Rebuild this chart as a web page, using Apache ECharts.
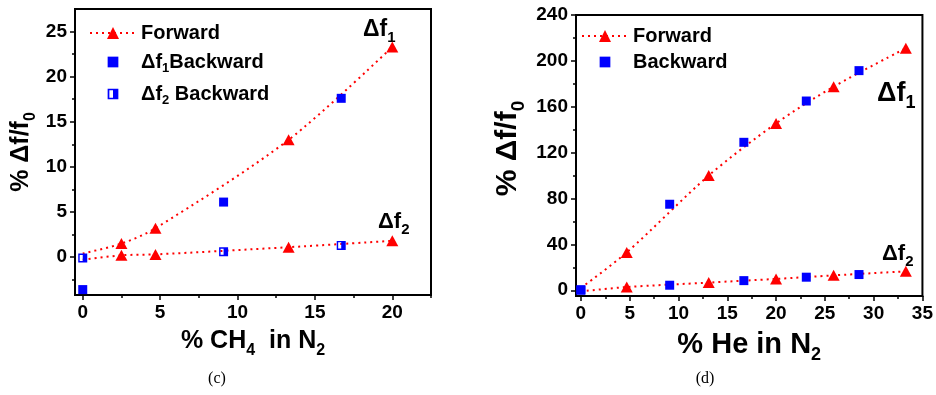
<!DOCTYPE html>
<html>
<head>
<meta charset="utf-8">
<script src="https://cdn.jsdelivr.net/npm/echarts@6/dist/echarts.min.js"></script>
<style>
html, body { margin: 0; padding: 0; background: #fff; }
#chart { width: 936px; height: 395px; }
</style>
</head>
<body>
<div id="chart"></div>
<script>
// ---- panel (c): % CH4 in N2 ----
// first point of each forward list is the start of the fitted dotted line (no marker)
var ch4_fwd_f1 = [[0, 0.4], [2.5, 1.5], [4.7, 3.2], [13.3, 13.0], [20, 23.3]];
var ch4_fwd_f2 = [[0, -0.3], [2.5, 0.2], [4.7, 0.3], [13.3, 1.1], [20, 1.8]];
var ch4_bwd_f1 = [[0, -3.6], [9.1, 6.1], [16.7, 17.6]];
var ch4_bwd_f2 = [[0, -0.1], [9.1, 0.6], [16.7, 1.3]];
var ch4_x_ticks = [0, 5, 10, 15, 20];
var ch4_x_minor = [2.5, 7.5, 12.5, 17.5, 22.5];
var ch4_y_ticks = [0, 5, 10, 15, 20, 25];
var ch4_y_minor = [-2.5, 2.5, 7.5, 12.5, 17.5, 22.5];

// ---- panel (d): % He in N2 ----
var he_fwd_f1 = [[0, 2], [4.7, 33], [13.1, 100], [20, 145.5], [25.9, 177.5], [33.3, 211]];
var he_fwd_f2 = [[0, -1], [4.7, 2.8], [13.1, 6.7], [20, 9.9], [25.9, 13.0], [33.3, 16.5]];
var he_bwd_f1 = [[0, 0.5], [9.1, 75], [16.7, 129], [23.1, 165], [28.5, 191.5]];
var he_bwd_f2 = [[0, 0], [9.1, 4.4], [16.7, 8.4], [23.1, 11.4], [28.5, 13.7]];
var he_x_ticks = [0, 5, 10, 15, 20, 25, 30, 35];
var he_x_minor = [2.5, 7.5, 12.5, 17.5, 22.5, 27.5, 32.5];
var he_y_ticks = [0, 40, 80, 120, 160, 200, 240];
var he_y_minor = [20, 60, 100, 140, 180, 220];

var FONT = "'Liberation Sans', Arial, sans-serif";
var RED = '#ff0000';
var BLUE = '#0000ff';
// square: blue border, left half empty, right half filled
var HALF_SQUARE = 'path://M0,0H10V10H0Z M1.6,1.6V8.4H5V1.6Z';
// legend icons: same squares, padded with empty corner points so they come out smaller
var LEG_SQUARE = 'path://M-2,-2L-2,-2 M0,0H10V10H0Z M12,12L12,12';
var LEG_HALF = 'path://M-2,-2L-2,-2 M0,0H10V10H0Z M1.6,1.6V8.4H5V1.6Z M12,12L12,12';

function subRich(base, sub, lh) {
    return {
        b: {fontFamily: FONT, fontWeight: 'bold', fontSize: base, lineHeight: lh, verticalAlign: 'middle', color: '#000'},
        s: {fontFamily: FONT, fontWeight: 'bold', fontSize: sub, lineHeight: sub, verticalAlign: 'bottom', color: '#000'}
    };
}

function fitLine(pts) {
    // the first point only anchors the dotted fit, it has no marker
    return pts.map(function(p, i) {
        return i == 0 ? {value: p, symbol: 'none'} : p;
    });
}

function mainX(grid, min, max, ticks, name, nameSize, nameGap) {
    return {
        gridIndex: grid, type: 'value', min: min, max: max, position: 'bottom',
        axisLine: {show: true, onZero: false, lineStyle: {color: '#000', width: 2}},
        axisTick: {show: true, length: 5, customValues: ticks, lineStyle: {color: '#000', width: 1.5}},
        axisLabel: {customValues: ticks, margin: 8, color: '#000', fontFamily: FONT, fontWeight: 'bold', fontSize: 19},
        splitLine: {show: false},
        name: name, nameLocation: 'middle', nameGap: nameGap,
        nameTextStyle: {rich: subRich(nameSize, Math.round(nameSize * 0.62), nameSize + 10)}
    };
}

function mainY(grid, min, max, ticks, name, nameSize, nameGap, pad) {
    return {
        gridIndex: grid, type: 'value', min: min, max: max, position: 'left',
        axisLine: {show: true, onZero: false, lineStyle: {color: '#000', width: 2}},
        axisTick: {show: true, length: 5, customValues: ticks, lineStyle: {color: '#000', width: 1.5}},
        axisLabel: {customValues: ticks, margin: 8, color: '#000', fontFamily: FONT, fontWeight: 'bold', fontSize: 19},
        splitLine: {show: false},
        name: name, nameLocation: 'middle', nameGap: nameGap, nameRotate: 90,
        nameTextStyle: {padding: pad, rich: subRich(nameSize, Math.round(nameSize * 0.62), nameSize + 10)}
    };
}

function minorAxis(grid, pos, min, max, ticks) {
    return {
        gridIndex: grid, type: 'value', min: min, max: max, position: pos,
        axisLine: {show: false, onZero: false},
        axisTick: {show: true, length: 3, customValues: ticks, lineStyle: {color: '#000', width: 1.5}},
        axisLabel: {show: false, customValues: ticks},
        splitLine: {show: false}
    };
}

function fwdSeries(name, xi, data) {
    return {
        name: name, type: 'line', xAxisIndex: xi, yAxisIndex: xi,
        smooth: 0.3, data: fitLine(data),
        symbol: 'triangle', symbolSize: [12, 11],
        itemStyle: {color: RED},
        lineStyle: {color: RED, width: 2, type: [2, 4]},
        z: 2
    };
}

function bwdSeries(name, xi, data, symbol) {
    return {
        name: name, type: 'scatter', xAxisIndex: xi, yAxisIndex: xi,
        data: data, symbol: symbol, symbolSize: 9,
        itemStyle: {color: BLUE, opacity: 1},
        z: 3
    };
}

var option = {
    backgroundColor: '#fff',
    animation: false,
    grid: [
        {left: 75, top: 9, width: 356, height: 286, show: true, borderColor: '#000', borderWidth: 2},
        {left: 576, top: 15, width: 348, height: 281, show: true, borderColor: '#000', borderWidth: 2}
    ],
    xAxis: [
        mainX(0, -0.5, 22.5, ch4_x_ticks, '{b|% CH}{s|4}{b|  in N}{s|2}', 25, 29),
        minorAxis(0, 'bottom', -0.5, 22.5, ch4_x_minor),
        mainX(1, -0.5, 35, he_x_ticks, '{b|% He in N}{s|2}', 29, 29),
        minorAxis(1, 'bottom', -0.5, 35, he_x_minor)
    ],
    yAxis: [
        mainY(0, -4.2, 27.5, ch4_y_ticks, '{b|% Δf/f}{s|0}', 25, 36, 0),
        minorAxis(0, 'left', -4.2, 27.5, ch4_y_minor),
        mainY(1, -5, 240, he_y_ticks, '{b|% Δf/f}{s|0}', 30, 48, [0, 0, 0, 14]),
        minorAxis(1, 'left', -5, 240, he_y_minor)
    ],
    legend: [
        {
            orient: 'vertical', left: 84, top: 18, itemWidth: 46, itemHeight: 15, itemGap: 9,
            data: [
                'Forward',
                {name: 'Δf1Backward', icon: LEG_SQUARE},
                {name: 'Δf2 Backward', icon: LEG_HALF}
            ],
            formatter: function(n) {
                if (n == 'Δf1Backward') return '{b|Δf}{s|1}{b|Backward}';
                if (n == 'Δf2 Backward') return '{b|Δf}{s|2}{b| Backward}';
                return '{b|' + n + '}';
            },
            textStyle: {rich: subRich(20, 13, 26)}
        },
        {
            orient: 'vertical', left: 576, top: 21, itemWidth: 46, itemHeight: 15, itemGap: 6,
            data: ['Forward', {name: 'Backward', icon: LEG_SQUARE}],
            formatter: function(n) { return '{b|' + n + '}'; },
            textStyle: {rich: subRich(20, 13, 26)}
        }
    ],
    series: [
        fwdSeries('Forward', 0, ch4_fwd_f1),
        fwdSeries('Forward', 0, ch4_fwd_f2),
        bwdSeries('Δf1Backward', 0, ch4_bwd_f1, 'rect'),
        bwdSeries('Δf2 Backward', 0, ch4_bwd_f2, HALF_SQUARE),
        fwdSeries('Forward', 2, he_fwd_f1),
        fwdSeries('Forward', 2, he_fwd_f2),
        bwdSeries('Backward', 2, he_bwd_f1, 'rect'),
        bwdSeries('Backward', 2, he_bwd_f2, 'rect')
    ],
    graphic: [
        {type: 'text', x: 363, y: 30, style: {text: '{b|Δf}{s|1}', rich: subRich(23, 15, 30), verticalAlign: 'middle'}},
        {type: 'text', x: 378, y: 222, style: {text: '{b|Δf}{s|2}', rich: subRich(22, 15, 30), verticalAlign: 'middle'}},
        {type: 'text', x: 877, y: 94, style: {text: '{b|Δf}{s|1}', rich: subRich(27, 18, 36), verticalAlign: 'middle'}},
        {type: 'text', x: 882, y: 254, style: {text: '{b|Δf}{s|2}', rich: subRich(22, 15, 30), verticalAlign: 'middle'}},
        {type: 'text', x: 217, y: 379, style: {text: '(c)', font: "16px 'Liberation Serif', serif", fill: '#000', align: 'center', verticalAlign: 'middle'}},
        {type: 'text', x: 705, y: 379, style: {text: '(d)', font: "16px 'Liberation Serif', serif", fill: '#000', align: 'center', verticalAlign: 'middle'}}
    ]
};

var chart = echarts.init(document.getElementById('chart'));
chart.setOption(option);
</script>
</body>
</html>
